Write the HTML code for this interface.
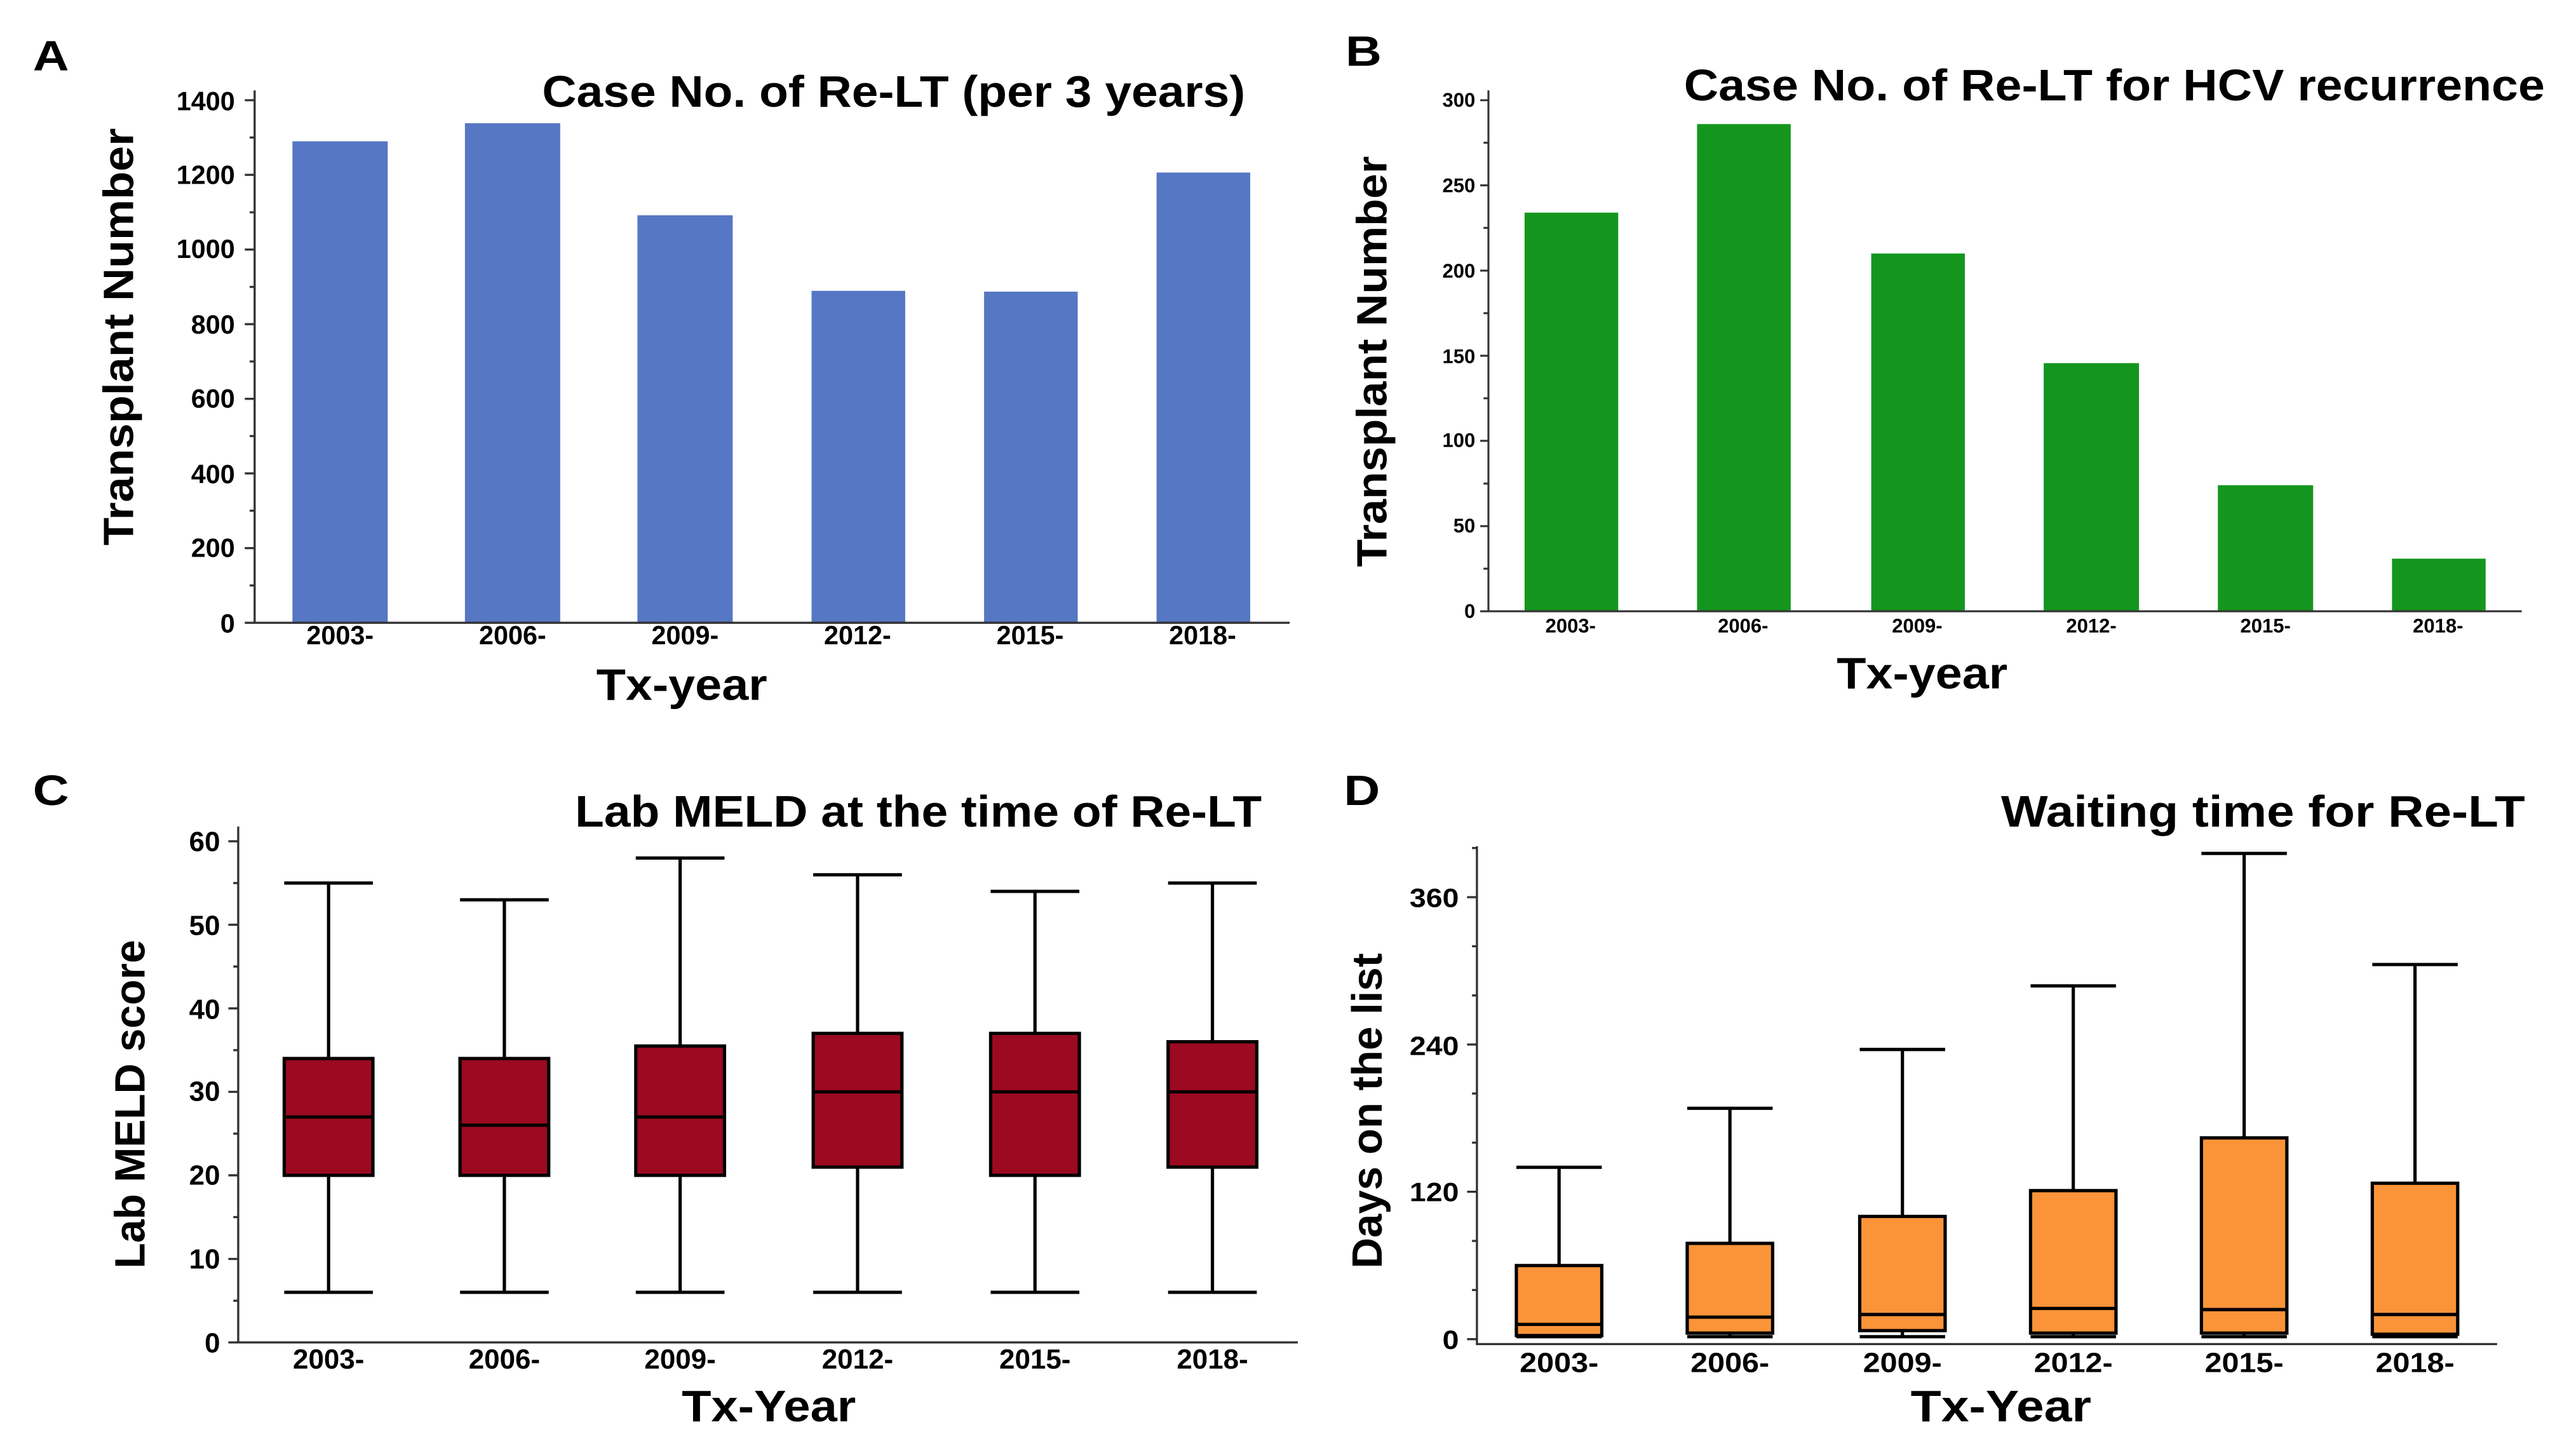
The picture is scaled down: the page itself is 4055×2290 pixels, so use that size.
<!DOCTYPE html>
<html><head><meta charset="utf-8"><style>
html,body{margin:0;padding:0;background:#fff;}
svg{display:block;}
text{font-family:"Liberation Sans",Arial,sans-serif;font-weight:bold;fill:#000;}
</style></head><body>
<svg width="4055" height="2290" viewBox="0 0 1568 885.5" preserveAspectRatio="none" xmlns="http://www.w3.org/2000/svg">
<rect width="1568" height="885.5" fill="#fff"/>

<!-- Panel A -->
<text x="20" y="43" font-size="26" textLength="22" lengthAdjust="spacingAndGlyphs">A</text>
<text x="330" y="65" font-size="27" textLength="428" lengthAdjust="spacingAndGlyphs">Case No. of Re-LT (per 3 years)</text>
<g fill="#5677c4">
<rect x="178" y="86" width="58" height="293"/>
<rect x="283" y="75" width="58" height="304"/>
<rect x="388" y="131" width="58" height="248"/>
<rect x="494" y="177" width="57" height="202"/>
<rect x="599" y="177.5" width="57" height="201.5"/>
<rect x="704" y="105" width="57" height="274"/>
</g>
<g stroke="#333" stroke-width="1.3" fill="none">
<path d="M155 55V379H785"/>
<path d="M149 379H155M149 333.6H155M149 288.1H155M149 242.7H155M149 197.3H155M149 151.9H155M149 106.4H155M149 61H155"/>
<path d="M152 356.3H155M152 310.8H155M152 265.4H155M152 220H155M152 174.6H155M152 129.2H155M152 83.7H155"/>
</g>
<g font-size="16" text-anchor="end">
<text x="143" y="385">0</text><text x="143" y="339">200</text><text x="143" y="294">400</text><text x="143" y="248">600</text><text x="143" y="203">800</text><text x="143" y="157">1000</text><text x="143" y="112">1200</text><text x="143" y="67">1400</text>
</g>
<g font-size="16" text-anchor="middle">
<text x="207" y="392">2003-</text><text x="312" y="392">2006-</text><text x="417" y="392">2009-</text><text x="522" y="392">2012-</text><text x="627" y="392">2015-</text><text x="732" y="392">2018-</text>
</g>
<text x="415" y="426" font-size="27" text-anchor="middle" textLength="104" lengthAdjust="spacingAndGlyphs">Tx-year</text>
<text transform="translate(81,205) rotate(-90)" font-size="26" text-anchor="middle" textLength="254" lengthAdjust="spacingAndGlyphs">Transplant Number</text>

<!-- Panel B -->
<text x="819" y="40" font-size="26" textLength="22" lengthAdjust="spacingAndGlyphs">B</text>
<text x="1025" y="61" font-size="27" textLength="524" lengthAdjust="spacingAndGlyphs">Case No. of Re-LT for HCV recurrence</text>
<g fill="#14961e">
<rect x="928" y="129.4" width="57" height="242.6"/>
<rect x="1033" y="75.5" width="57" height="296.5"/>
<rect x="1139" y="154.3" width="57" height="217.7"/>
<rect x="1244" y="221" width="58" height="151"/>
<rect x="1350" y="295.3" width="58" height="76.7"/>
<rect x="1456" y="340" width="57" height="32"/>
</g>
<g stroke="#333" stroke-width="1.2" fill="none">
<path d="M906 55V372H1535"/>
<path d="M901 372H906M901 320.2H906M901 268.3H906M901 216.5H906M901 164.7H906M901 112.8H906M901 61H906"/>
<path d="M903 346.1H906M903 294.3H906M903 242.4H906M903 190.6H906M903 138.7H906M903 86.9H906"/>
</g>
<g font-size="12" text-anchor="end">
<text x="898" y="376">0</text><text x="898" y="324">50</text><text x="898" y="272">100</text><text x="898" y="221">150</text><text x="898" y="169">200</text><text x="898" y="117">250</text><text x="898" y="65">300</text>
</g>
<g font-size="12" text-anchor="middle">
<text x="956" y="385">2003-</text><text x="1061" y="385">2006-</text><text x="1167" y="385">2009-</text><text x="1273" y="385">2012-</text><text x="1379" y="385">2015-</text><text x="1484" y="385">2018-</text>
</g>
<text x="1170" y="419" font-size="27" text-anchor="middle" textLength="104" lengthAdjust="spacingAndGlyphs">Tx-year</text>
<text transform="translate(844,220) rotate(-90)" font-size="26" text-anchor="middle" textLength="250" lengthAdjust="spacingAndGlyphs">Transplant Number</text>

<!-- Panel C -->
<text x="20" y="490" font-size="26" textLength="22" lengthAdjust="spacingAndGlyphs">C</text>
<text x="350" y="503" font-size="27" textLength="418" lengthAdjust="spacingAndGlyphs">Lab MELD at the time of Re-LT</text>
<g stroke="#333" stroke-width="1.3" fill="none">
<path d="M145 503V817H790"/>
<path d="M139 817H145M139 766.2H145M139 715.3H145M139 664.5H145M139 613.7H145M139 562.8H145M139 512H145"/>
<path d="M142 791.6H145M142 740.7H145M142 689.9H145M142 639.1H145M142 588.2H145M142 537.4H145"/>
</g>
<g font-size="17" text-anchor="end">
<text x="134" y="823">0</text><text x="134" y="772">10</text><text x="134" y="721">20</text><text x="134" y="670">30</text><text x="134" y="620">40</text><text x="134" y="569">50</text><text x="134" y="518">60</text>
</g>
<g stroke="#000" stroke-width="2" fill="#9b0a20">
<path d="M173 537.4H227M200 537.4V786.5M173 786.5H227" fill="none"/>
<rect x="173" y="644.2" width="54" height="71.1"/><path d="M173 679.8H227"/>
<path d="M280 547.6H334M307 547.6V786.5M280 786.5H334" fill="none"/>
<rect x="280" y="644.2" width="54" height="71.1"/><path d="M280 684.8H334"/>
<path d="M387 522.2H441M414 522.2V786.5M387 786.5H441" fill="none"/>
<rect x="387" y="636.6" width="54" height="78.7"/><path d="M387 679.8H441"/>
<path d="M495 532.4H549M522 532.4V786.5M495 786.5H549" fill="none"/>
<rect x="495" y="628.9" width="54" height="81.4"/><path d="M495 664.5H549"/>
<path d="M603 542.5H657M630 542.5V786.5M603 786.5H657" fill="none"/>
<rect x="603" y="628.9" width="54" height="86.4"/><path d="M603 664.5H657"/>
<path d="M711 537.4H765M738 537.4V786.5M711 786.5H765" fill="none"/>
<rect x="711" y="634" width="54" height="76.3"/><path d="M711 664.5H765"/>
</g>
<g font-size="17" text-anchor="middle">
<text x="200" y="833">2003-</text><text x="307" y="833">2006-</text><text x="414" y="833">2009-</text><text x="522" y="833">2012-</text><text x="630" y="833">2015-</text><text x="738" y="833">2018-</text>
</g>
<text x="468" y="865" font-size="27" text-anchor="middle" textLength="106" lengthAdjust="spacingAndGlyphs">Tx-Year</text>
<text transform="translate(88,672) rotate(-90)" font-size="26" text-anchor="middle" textLength="200" lengthAdjust="spacingAndGlyphs">Lab MELD score</text>

<!-- Panel D -->
<text x="818" y="490" font-size="26" textLength="22" lengthAdjust="spacingAndGlyphs">D</text>
<text x="1218" y="503" font-size="27" textLength="319" lengthAdjust="spacingAndGlyphs">Waiting time for Re-LT</text>
<g stroke="#333" stroke-width="1.3" fill="none">
<path d="M899 515V818H1520"/>
<path d="M893 815H899M893 725.3H899M893 635.7H899M893 546H899"/>
<path d="M896 785.1H899M896 755.2H899M896 695.4H899M896 665.5H899M896 605.8H899M896 575.9H899M896 516.1H899"/>
</g>
<g font-size="16" text-anchor="end">
<text x="888" y="821" textLength="10" lengthAdjust="spacingAndGlyphs">0</text><text x="888" y="731" textLength="30" lengthAdjust="spacingAndGlyphs">120</text><text x="888" y="642" textLength="30" lengthAdjust="spacingAndGlyphs">240</text><text x="888" y="552" textLength="30" lengthAdjust="spacingAndGlyphs">360</text>
</g>
<g stroke="#000" stroke-width="2" fill="#fb9439">
<path d="M923 710.4H975M949 710.4V813.5M923 813.5H975" fill="none"/>
<rect x="923" y="770.2" width="52" height="42.6"/><path d="M923 806H975"/>
<path d="M1027 674.5H1079M1053 674.5V813.5M1027 813.5H1079" fill="none"/>
<rect x="1027" y="756.7" width="52" height="54.6"/><path d="M1027 801.6H1079"/>
<path d="M1132 638.7H1184M1158 638.7V813.5M1132 813.5H1184" fill="none"/>
<rect x="1132" y="740.3" width="52" height="69.5"/><path d="M1132 800H1184"/>
<path d="M1236 600H1288M1262 600V813.5M1236 813.5H1288" fill="none"/>
<rect x="1236" y="724.6" width="52" height="86.7"/><path d="M1236 796.3H1288"/>
<path d="M1340 519.4H1392M1366 519.4V813.5M1340 813.5H1392" fill="none"/>
<rect x="1340" y="692.5" width="52" height="118.8"/><path d="M1340 797H1392"/>
<path d="M1444 587H1496M1470 587V813.5M1444 813.5H1496" fill="none"/>
<rect x="1444" y="720.1" width="52" height="91.9"/><path d="M1444 800H1496"/>
</g>
<g font-size="17" text-anchor="middle">
<text x="949" y="835" textLength="48" lengthAdjust="spacingAndGlyphs">2003-</text><text x="1053" y="835" textLength="48" lengthAdjust="spacingAndGlyphs">2006-</text><text x="1158" y="835" textLength="48" lengthAdjust="spacingAndGlyphs">2009-</text><text x="1262" y="835" textLength="48" lengthAdjust="spacingAndGlyphs">2012-</text><text x="1366" y="835" textLength="48" lengthAdjust="spacingAndGlyphs">2015-</text><text x="1470" y="835" textLength="48" lengthAdjust="spacingAndGlyphs">2018-</text>
</g>
<text x="1218" y="865" font-size="27" text-anchor="middle" textLength="110" lengthAdjust="spacingAndGlyphs">Tx-Year</text>
<text transform="translate(841,676) rotate(-90)" font-size="26" text-anchor="middle" textLength="192" lengthAdjust="spacingAndGlyphs">Days on the list</text>
</svg>
</body></html>
